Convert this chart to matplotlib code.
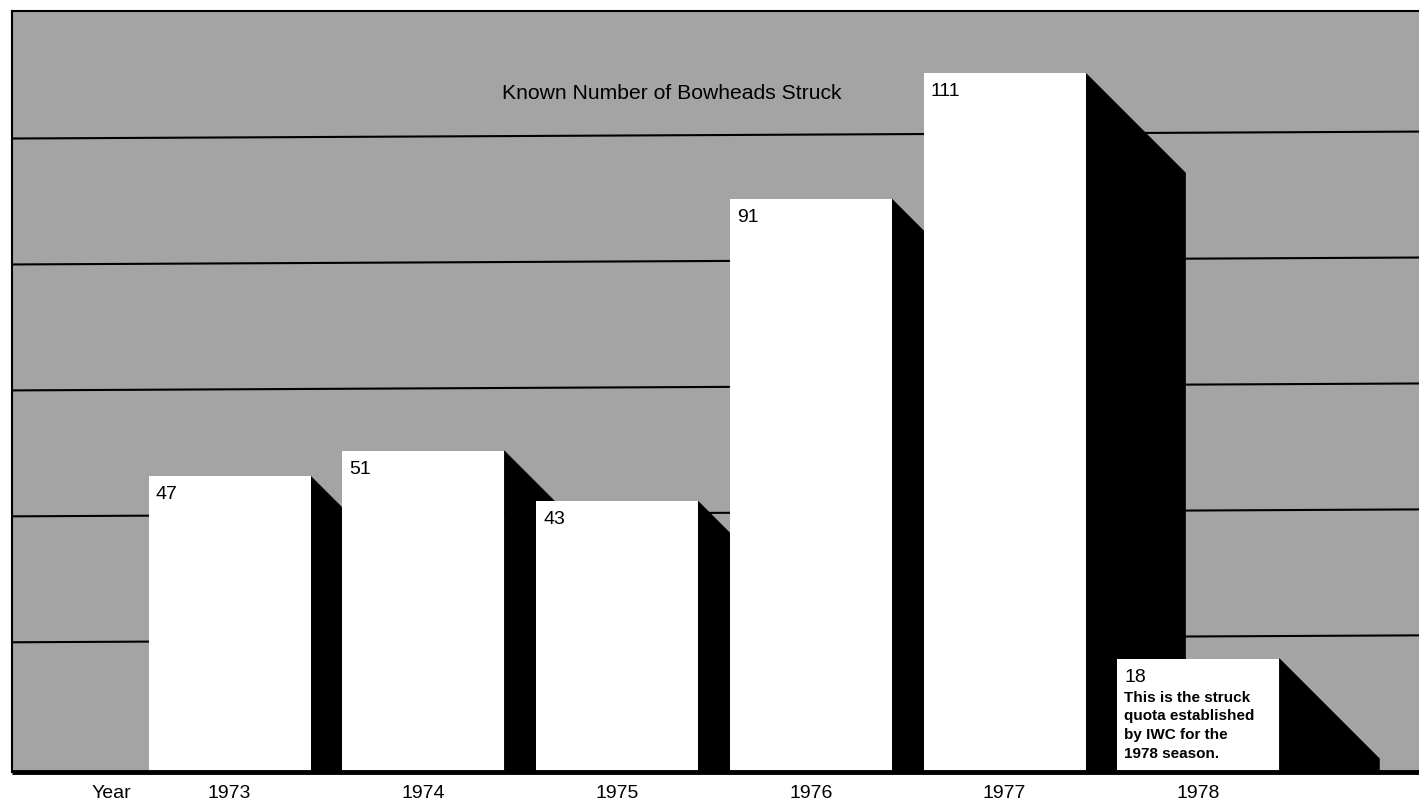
import matplotlib
matplotlib.use("Agg")
import matplotlib.pyplot as plt
from matplotlib.patches import Polygon, Rectangle

# Known bowhead whales struck per season, plus the IWC quota for 1978
years = ["1973", "1974", "1975", "1976", "1977", "1978"]
struck = [47, 51, 43, 91, 111, 18]
quota_note = "This is the struck\nquota established\nby IWC for the\n1978 season."
chart_title = "Known Number of Bowheads Struck"
axis_word = "Year"
gridline_levels = [20, 40, 60, 80, 100]

plt.rcParams['font.family'] = ['Liberation Sans', 'DejaVu Sans']

W, H, DPI = 1419, 805, 100
fig = plt.figure(figsize=(W / DPI, H / DPI), dpi=DPI)
fig.patch.set_facecolor('white')

ax = fig.add_axes([12 / W, (H - 772) / H, 1 - 12 / W, (772 - 11) / H])
ax.set_xlim(-1.1226, 6.139)
ax.set_ylim(0, 120.85)
ax.set_facecolor('#a4a4a4')

# data units per screen pixel, used for the 45-degree drop shadows
x0, x1 = ax.get_xlim()
y0, y1 = ax.get_ylim()
px_x = (x1 - x0) / ax.bbox.width
px_y = (y1 - y0) / ax.bbox.height
depth = 100
dx, dy = depth * px_x, depth * px_y

# background rules, drawn slightly skewed like the printed sheet
rule_lift, tilt = 0.6, 1.1
for lv in gridline_levels:
    ax.plot([x0, x1], [lv + rule_lift, lv + rule_lift + tilt], color='black',
            lw=1.5, zorder=1, solid_capstyle='butt')

bar_w = 0.836
for i, (yr, v) in enumerate(zip(years, struck)):
    xl, xr = i - bar_w / 2, i + bar_w / 2
    shadow = Polygon([(xr, v), (xr + dx, max(v - dy, 0)), (xr + dx, 0), (xr, 0)],
                     closed=True, facecolor='black', edgecolor='black',
                     lw=0.5, zorder=2 + 2 * i)
    ax.add_patch(shadow)
    ax.add_patch(Rectangle((xl, 0), bar_w, v, facecolor='white',
                           edgecolor='none', zorder=3 + 2 * i))
    ax.annotate(str(v), xy=(xl, v), xytext=(7, -10), textcoords='offset pixels',
                ha='left', va='top', fontsize=14, color='black',
                zorder=30)

# note under the 1978 quota value
ax.annotate(quota_note, xy=(len(years) - 1 - bar_w / 2, struck[-1]),
            xytext=(7, -32), textcoords='offset pixels', ha='left', va='top',
            fontsize=11, fontweight='bold', linespacing=1.42, zorder=30)

ax.text(2.284, 107.8, chart_title, ha='center', va='center', fontsize=15.2,
        color='black', zorder=30)

# heavy baseline
ax.plot([x0, x1], [0, 0], color='black', lw=3.5, zorder=40, clip_on=False,
        solid_capstyle='butt')

for side in ('right', 'bottom'):
    ax.spines[side].set_visible(False)
for side in ('left', 'top'):
    ax.spines[side].set_color('black')
    ax.spines[side].set_linewidth(1.5)

ax.set_yticks([])
ax.set_xticks([-0.61] + list(range(len(years))))
ax.set_xticklabels([axis_word] + years, fontsize=14)
ax.tick_params(axis='x', length=0, pad=9)

fig.savefig("out.png", dpi=DPI)
